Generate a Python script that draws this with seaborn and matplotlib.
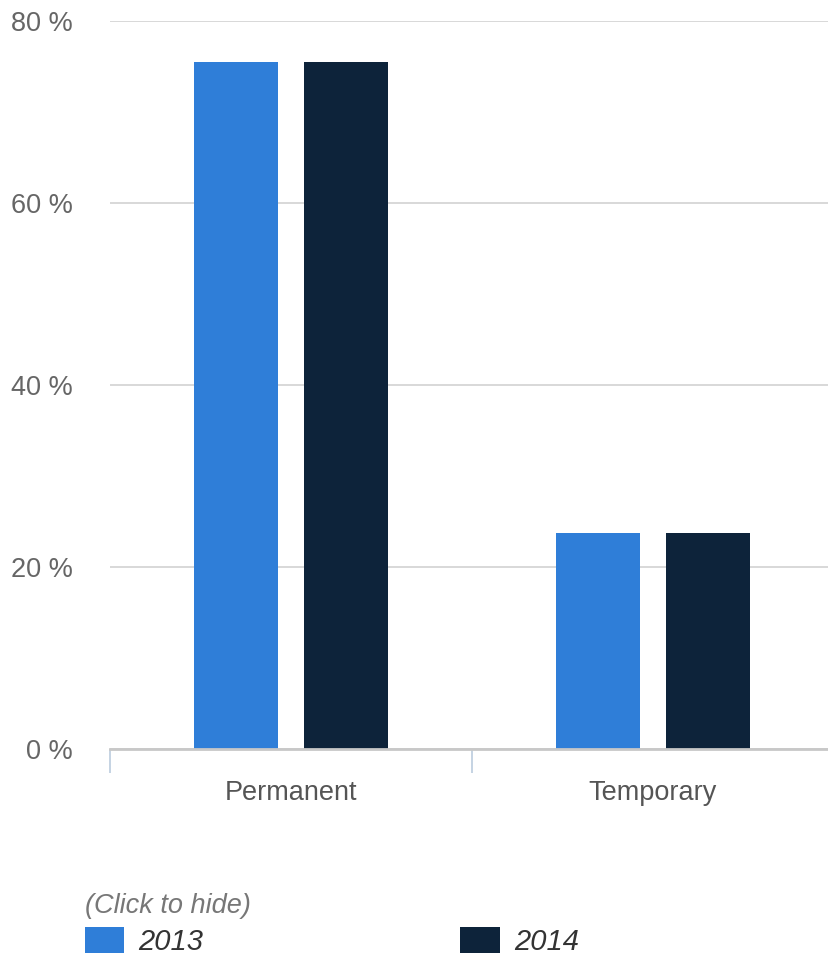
import pandas as pd
import seaborn as sns
import matplotlib.pyplot as plt

# Dados
categorias = ["Permanent", "Temporary"]
anos = ["2013", "2014"]
valores_2013 = [75.5, 23.8]
valores_2014 = [75.5, 23.8]
cores = ["#2f7ed8", "#0d233a"]
y_ticks = [0, 20, 40, 60, 80]
y_labels = ["0 %", "20 %", "40 %", "60 %", "80 %"]

linhas = []
for cat, v13, v14 in zip(categorias, valores_2013, valores_2014):
    linhas.append({"Categoria": cat, "Ano": anos[0], "Valor": v13})
    linhas.append({"Categoria": cat, "Ano": anos[1], "Valor": v14})
df = pd.DataFrame(linhas)

sns.set_theme(style="white")
plt.rcParams["font.family"] = ["Liberation Sans", "DejaVu Sans"]

fig = plt.figure(figsize=(8.29, 9.63), dpi=100)
ax = fig.add_axes([110 / 829, 213.7 / 963, 719 / 829, 728.6 / 963])

sns.barplot(data=df, x="Categoria", y="Valor", hue="Ano", palette=cores,
            width=0.608, gap=0.237, linewidth=0, saturation=1, ax=ax)

ax.set_xlim(-0.5, -0.5 + 719 / 362)
ax.set_ylim(0, 80)
ax.set_yticks(y_ticks)
ax.set_yticklabels(y_labels)
ax.set_xlabel("")
ax.set_ylabel("")

# grade e eixos
ax.yaxis.grid(True, color="#d6d6d6", linewidth=1.3)
ax.set_axisbelow(True)
for lado in ["top", "right", "left"]:
    ax.spines[lado].set_visible(False)
ax.spines["bottom"].set_color("#c8c8c8")
ax.spines["bottom"].set_linewidth(2)

ax.tick_params(axis="y", length=0, pad=27, labelsize=19.5, labelcolor="#666666")
ax.tick_params(axis="x", which="major", length=0, pad=22, labelsize=19.5, labelcolor="#555555")
ax.set_xticks([-0.5, 0.5], minor=True)
ax.tick_params(axis="x", which="minor", bottom=True, length=17, width=1.3,
               color="#c0d0e0", direction="out")

# legenda
sns.move_legend(ax, "upper left", bbox_to_anchor=(70 / 829, 1 - 878 / 963),
                bbox_transform=fig.transFigure, ncol=2, frameon=False,
                title="(Click to hide)", alignment="left",
                handlelength=1.35, handleheight=1.0, handletextpad=0.5,
                columnspacing=8.8, borderpad=0, labelspacing=0.3,
                prop={"size": 21, "style": "italic"},
                title_fontproperties={"size": 19.5, "style": "italic"})
leg = ax.get_legend()
leg.get_title().set_color("#777777")
for t in leg.get_texts():
    t.set_color("#333333")

plt.savefig("out.png", dpi=100)
